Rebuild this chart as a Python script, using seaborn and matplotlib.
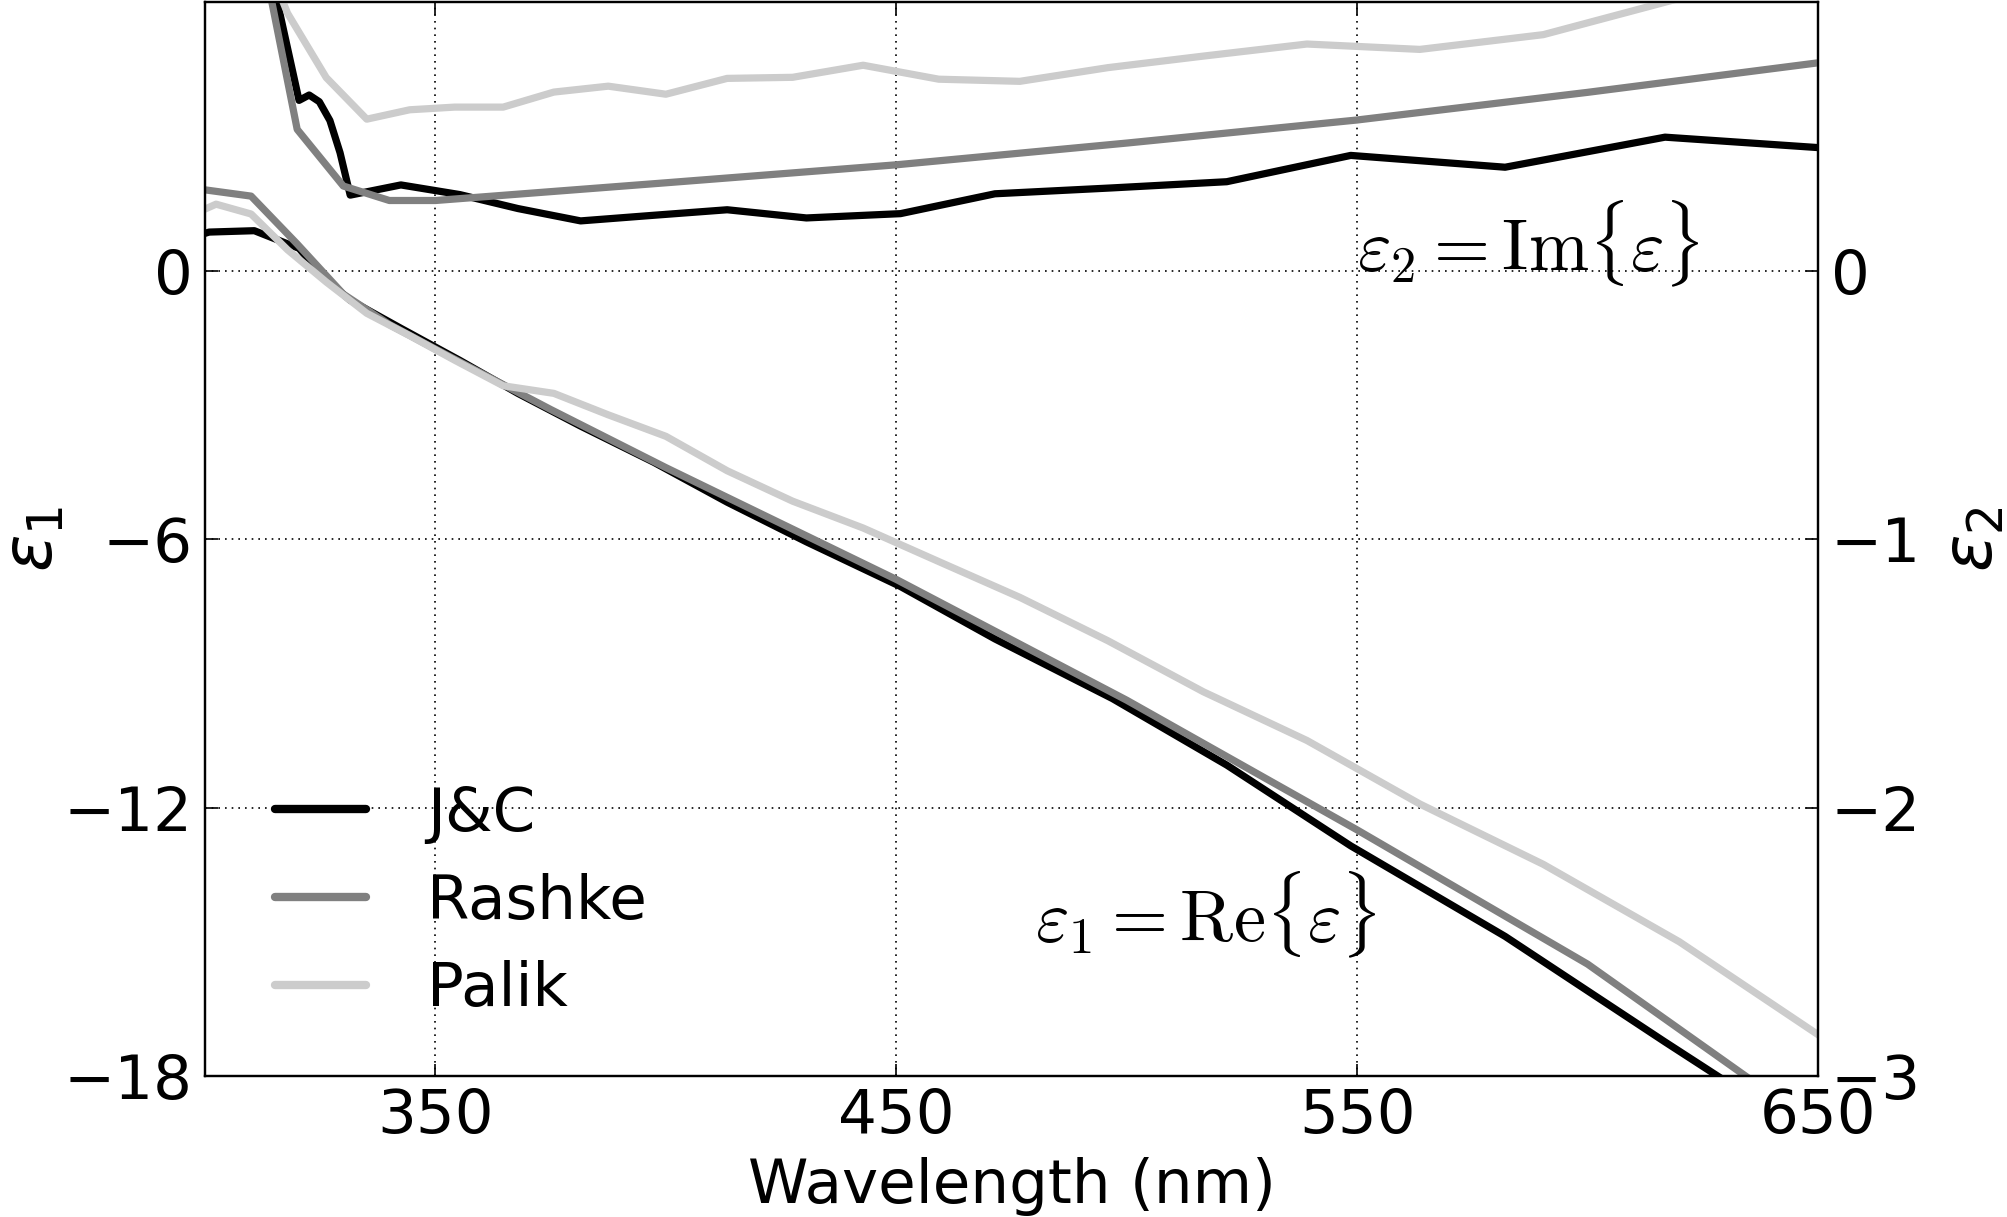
import matplotlib
matplotlib.use("Agg")
import matplotlib.pyplot as plt
import numpy as np
import pandas as pd
import seaborn as sns

# ---------------- data ----------------
jc_wl = [292.4, 300.9, 310.7, 320.4, 322.6, 324.8, 327.1, 329.3, 331.5, 342.5, 355.3,
         367.9, 381.5, 397.4, 413.3, 430.5, 450.9, 471.4, 496.9, 521.7, 548.6,
         582.1, 616.8, 659.5]
jc_eps1 = [0.60, 0.866, 0.897, 0.502, 0.236, -0.014, -0.247, -0.462, -0.658, -1.285,
           -2.003, -2.741, -3.472, -4.282, -5.173, -6.06, -7.058, -8.23, -9.564,
           -11.05, -12.856, -14.88, -17.24, -20.09]
jc_eps2 = [3.2, 2.584, 1.392, 0.635, 0.655, 0.63, 0.56, 0.44, 0.282, 0.320, 0.284,
           0.232, 0.186, 0.207, 0.2275, 0.197, 0.213, 0.287, 0.309, 0.332, 0.430,
           0.386, 0.498, 0.448]

ra_wl = [300, 310, 320, 330, 340, 350, 375, 400, 450, 500, 550, 600, 650]
ra_eps1 = [1.81, 1.67, 0.60, -0.52, -1.20, -1.75, -3.10, -4.40, -6.90, -9.60,
           -12.50, -15.50, -19.15]
ra_eps2 = [2.2, 1.39, 0.527, 0.316, 0.262, 0.262, 0.295, 0.328, 0.395, 0.476,
           0.562, 0.665, 0.775]

pa_wl = [295.2, 302.4, 310.0, 317.9, 326.3, 335.1, 344.4, 354.2, 364.7, 375.7,
         387.5, 400.0, 413.3, 427.5, 442.8, 459.2, 476.8, 495.9, 516.6, 539.1,
         563.6, 590.4, 619.9, 652.5]
pa_eps1 = [1.16, 1.49, 1.27, 0.47, -0.25, -0.95, -1.45, -2.00, -2.57, -2.74,
           -3.22, -3.70, -4.47, -5.15, -5.75, -6.50, -7.30, -8.27, -9.41, -10.50,
           -11.92, -13.27, -15.00, -17.25]
pa_eps2 = [2.5, 2.0, 1.30, 0.96, 0.72, 0.565, 0.60, 0.61, 0.61, 0.666,
           0.688, 0.658, 0.717, 0.721, 0.766, 0.714, 0.706, 0.757, 0.80, 0.845,
           0.825, 0.88, 1.015, 1.10]

series_names = ["J&C", "Rashke", "Palik"]
series_colors = ["#000000", "#808080", "#cccccc"]

x_ticks = [350, 450, 550, 650]
y1_ticks = [-18, -12, -6, 0]
y2_ticks = [-3, -2, -1, 0]

# ---------------- tables ----------------
frames = []
for name, wl, e1, e2 in [("J&C", jc_wl, jc_eps1, jc_eps2),
                         ("Rashke", ra_wl, ra_eps1, ra_eps2),
                         ("Palik", pa_wl, pa_eps1, pa_eps2)]:
    frames.append(pd.DataFrame({"wl": wl, "eps1": e1, "eps2": e2, "source": name}))
df = pd.concat(frames, ignore_index=True)

# ---------------- style ----------------
sns.set_theme(style="white")
plt.rcParams["font.family"] = ["DejaVu Sans"]
plt.rcParams["mathtext.fontset"] = "dejavusans"
for key in ["text.color", "axes.labelcolor", "xtick.color", "ytick.color",
            "axes.edgecolor"]:
    plt.rcParams[key] = "black"

FS = 22
fig, ax = plt.subplots(figsize=(10.04, 6.085), dpi=200)
fig.subplots_adjust(left=0.1021, right=0.9054, bottom=0.1159, top=0.998)
ax2 = ax.twinx()

palette = dict(zip(series_names, series_colors))
sns.lineplot(data=df, x="wl", y="eps1", hue="source", hue_order=series_names,
             palette=palette, ax=ax, sort=False, estimator=None, linewidth=2.6)
sns.lineplot(data=df, x="wl", y="eps2", hue="source", hue_order=series_names,
             palette=palette, ax=ax2, sort=False, estimator=None, linewidth=2.6,
             legend=False)

ax.set_xlim(300, 650)
ax.set_ylim(-18, 6)
ax2.set_ylim(-3, 1)
ax.set_xticks(x_ticks)
ax.set_yticks(y1_ticks)
ax2.set_yticks(y2_ticks)
ax.set_xticklabels([str(t) for t in x_ticks])
ax.set_yticklabels([f"\u2212{abs(t)}" if t < 0 else str(t) for t in y1_ticks])
ax2.set_yticklabels([f"\u2212{abs(t)}" if t < 0 else str(t) for t in y2_ticks])

ax.grid(True, linestyle=(0, (1, 3)), color="black", linewidth=0.6)
ax2.grid(False)

ax.tick_params(axis="both", which="major", direction="in", length=4.5, width=0.6,
               labelsize=FS, top=True, bottom=True, left=True, right=False)
ax.tick_params(axis="x", pad=4)
ax.tick_params(axis="y", pad=4.5)
ax2.tick_params(axis="y", direction="in", length=4.5, width=0.6, labelsize=FS,
                right=True, pad=4.5)

ax.set_xlabel("Wavelength (nm)", fontsize=FS, labelpad=4)
ax.set_ylabel(r"$\varepsilon_1$", fontsize=25)
ax2.set_ylabel(r"$\varepsilon_2$", fontsize=25)
ax.yaxis.set_label_coords(-0.086, 0.5)
ax2.yaxis.set_label_coords(1.0755, 0.5)

ax2.text(550, 0, r"$\varepsilon_2 = \mathrm{Im}\{\varepsilon\}$", fontsize=26,
         ha="left", va="baseline", math_fontfamily="cm")
ax.text(480, -15, r"$\varepsilon_1 = \mathrm{Re}\{\varepsilon\}$", fontsize=26,
        ha="left", va="baseline", math_fontfamily="cm")

leg = ax.legend(loc="lower left", bbox_to_anchor=(0.028, 0.03), borderaxespad=0,
                frameon=False, fontsize=FS, handlelength=1.5, handletextpad=1.0,
                labelspacing=0.47)
for line in leg.get_lines():
    line.set_linewidth(3.0)

for a in (ax, ax2):
    for s in a.spines.values():
        s.set_color("black")
        s.set_linewidth(0.8)

fig.savefig("out.png", dpi=200)
